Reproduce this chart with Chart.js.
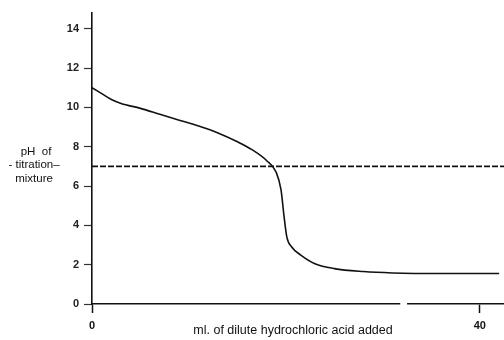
<!DOCTYPE html>
<html>
<head>
<meta charset="utf-8">
<script src="https://cdn.jsdelivr.net/npm/chart.js@4/dist/chart.umd.min.js"></script>
<style>
html,body{margin:0;padding:0;background:#fff;}
#wrap{width:504px;height:340px;position:relative;}
</style>
</head>
<body>
<div id="wrap"><canvas id="c" width="504" height="340"></canvas></div>
<script>
// Titration curve: ml of HCl added vs pH
const mlAdded = [0, 1, 2, 3, 5, 7, 9, 11, 13, 15, 16.5, 18, 19, 19.5, 19.8, 20.1, 20.6, 21.5, 23, 25, 28, 31, 36, 42];
const phValues = [11.0, 10.7, 10.4, 10.2, 9.95, 9.65, 9.35, 9.05, 8.7, 8.25, 7.85, 7.3, 6.7, 5.8, 4.5, 3.4, 2.9, 2.5, 2.05, 1.8, 1.65, 1.58, 1.55, 1.55];
const neutralPH = 7;
const xRange = [0, 42.5];
const yRange = [0, 14.8];
const xTickValues = [0, 40];
const yTickValues = [0, 2, 4, 6, 8, 10, 12, 14];
const yTitleLines = ['pH  of', '- titration\u2013', 'mixture'];
const xTitle = 'ml. of dilute hydrochloric acid added';

const curve = mlAdded.map((x, i) => ({x: x, y: phValues[i]}));
const neutralLine = [{x: xRange[0], y: neutralPH}, {x: xRange[1], y: neutralPH}];

const titlesPlugin = {
  id: 'titles',
  afterDraw(chart) {
    const ctx = chart.ctx;
    const xs = chart.scales.x;
    ctx.save();
    // gap in x-axis line
    const g1 = xs.getPixelForValue(31.8), g2 = xs.getPixelForValue(32.5);
    ctx.fillStyle = '#fff';
    ctx.fillRect(g1, xs.top - 2, g2 - g1, 4);
    ctx.fillStyle = '#111';
    ctx.font = '11.5px "Liberation Sans", Arial, sans-serif';
    ctx.textAlign = 'center';
    ctx.textBaseline = 'middle';
    ctx.fillText(yTitleLines[0], 36, 152);
    ctx.fillText(yTitleLines[1], 34, 165);
    ctx.fillText(yTitleLines[2], 34, 179);
    ctx.font = '12.5px "Liberation Sans", Arial, sans-serif';
    ctx.fillText(xTitle, 293, 331);
    ctx.restore();
  }
};

new Chart(document.getElementById('c'), {
  type: 'line',
  data: {
    datasets: [
      {
        data: curve,
        borderColor: '#111',
        borderWidth: 1.6,
        pointRadius: 0,
        cubicInterpolationMode: 'monotone',
        fill: false
      },
      {
        data: neutralLine,
        borderColor: '#111',
        borderWidth: 1.6,
        borderDash: [6, 2],
        pointRadius: 0,
        fill: false
      }
    ]
  },
  options: {
    responsive: false,
    animation: false,
    layout: {padding: {top: 13, right: 0, left: 0, bottom: 0}},
    plugins: {legend: {display: false}, tooltip: {enabled: false}},
    scales: {
      x: {
        type: 'linear',
        min: xRange[0],
        max: xRange[1],
        afterBuildTicks(s) { s.ticks = xTickValues.map(v => ({value: v})); },
        afterFit(s) { s.height = 36; },
        grid: {drawOnChartArea: false, drawTicks: true, tickLength: 9, tickColor: '#111', tickWidth: 1.5},
        border: {display: true, color: '#111', width: 1.6},
        ticks: {color: '#111', padding: 6, font: {family: '"Liberation Sans", Arial, sans-serif', size: 11, weight: 'bold'}}
      },
      y: {
        type: 'linear',
        min: yRange[0],
        max: yRange[1],
        afterBuildTicks(s) { s.ticks = yTickValues.map(v => ({value: v})); },
        afterFit(s) { s.width = 92; },
        grid: {drawOnChartArea: false, drawTicks: true, tickLength: 8, tickColor: '#333', tickWidth: 1.2},
        border: {display: true, color: '#111', width: 1.6},
        ticks: {color: '#222', padding: 5, font: {family: '"Liberation Sans", Arial, sans-serif', size: 11, weight: 'bold'}}
      }
    }
  },
  plugins: [titlesPlugin]
});
</script>
</body>
</html>
